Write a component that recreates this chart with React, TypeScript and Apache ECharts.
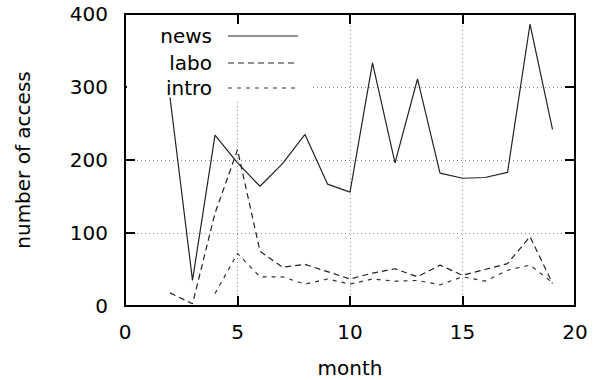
import React, { useEffect, useRef } from "react";
import * as echarts from "echarts";

const seriesNames = ["news", "labo", "intro"];
const newsMonths = [2, 3, 4, 5, 6, 7, 8, 9, 10, 11, 12, 13, 14, 15, 16, 17, 18, 19];
const newsValues = [286, 35, 234, 196, 164, 195, 235, 167, 156, 333, 196, 311, 182, 175, 176, 183, 386, 242];
const laboMonths = [2, 3, 4, 5, 6, 7, 8, 9, 10, 11, 12, 13, 14, 15, 16, 17, 18, 19];
const laboValues = [18, 3, 127, 214, 75, 53, 57, 47, 37, 45, 51, 40, 56, 42, 50, 58, 95, 31];
const introMonths = [4, 5, 6, 7, 8, 9, 10, 11, 12, 13, 14, 15, 16, 17, 18, 19];
const introValues = [17, 72, 40, 40, 30, 37, 30, 37, 34, 35, 29, 40, 34, 49, 56, 32];
const xTicks = [0, 5, 10, 15, 20];
const yTicks = [0, 100, 200, 300, 400];

const FONT = "'DejaVu Sans', sans-serif";
const FS = 20;

export default function App() {
  const ref = useRef<HTMLDivElement>(null);
  useEffect(() => {
    if (!ref.current) return;
    const chart = echarts.init(ref.current, undefined, { renderer: "svg" });
    const pair = (m: number[], v: number[]) => m.map((x, i) => [x, v[i]]);
    const dashes: any[] = ["solid", [6, 4], [4, 5]];
    const colors = ["#222", "#222", "#333"];
    const datas = [pair(newsMonths, newsValues), pair(laboMonths, laboValues), pair(introMonths, introValues)];

    const axisCommon = {
      type: "value" as const,
      axisLine: { show: true, onZero: false, lineStyle: { color: "#000", width: 2 } },
      axisTick: { show: true, inside: true, length: 10, lineStyle: { color: "#000", width: 2 } },
      axisLabel: { color: "#000", fontSize: FS, fontFamily: FONT },
    };
    const legendY = [36, 63, 88];
    const legendEls: any[] = [];
    seriesNames.forEach((n, i) => {
      legendEls.push({
        type: "text",
        x: 212,
        y: legendY[i],
        z: 5,
        style: { text: n, fill: "#000", font: `${FS}px ${FONT}`, align: "right", verticalAlign: "middle" },
      });
      legendEls.push({
        type: "line",
        z: 5,
        shape: { x1: 228, y1: legendY[i], x2: 298, y2: legendY[i] },
        style: { stroke: colors[i], lineWidth: 1.2, lineDash: dashes[i] === "solid" ? null : dashes[i] },
      });
    });

    chart.setOption({
      animation: false,
      backgroundColor: "#fff",
      grid: { left: 125, right: 25, top: 14, bottom: 74, containLabel: false, outerBoundsMode: "none" },
      xAxis: [
        {
          ...axisCommon,
          min: xTicks[0],
          max: xTicks[xTicks.length - 1],
          interval: 5,
          position: "bottom",
          name: "month",
          nameLocation: "middle",
          nameGap: 52,
          nameTextStyle: { color: "#000", fontSize: FS, fontFamily: FONT },
          axisLabel: { ...axisCommon.axisLabel, margin: 16 },
          splitLine: { show: true, lineStyle: { color: "#888", type: [1, 3], width: 1 } },
        },
        {
          ...axisCommon,
          min: xTicks[0],
          max: xTicks[xTicks.length - 1],
          interval: 5,
          position: "top",
          axisLabel: { show: false },
          splitLine: { show: false },
        },
      ],
      yAxis: [
        {
          ...axisCommon,
          min: yTicks[0],
          max: yTicks[yTicks.length - 1],
          interval: 100,
          position: "left",
          name: "number of access",
          nameLocation: "middle",
          nameGap: 92,
          nameRotate: 90,
          nameTextStyle: { color: "#000", fontSize: FS, fontFamily: FONT },
          axisLabel: { ...axisCommon.axisLabel, margin: 17 },
          splitLine: { show: true, lineStyle: { color: "#888", type: [1, 3], width: 1 } },
        },
        {
          ...axisCommon,
          min: yTicks[0],
          max: yTicks[yTicks.length - 1],
          interval: 100,
          position: "right",
          axisLabel: { show: false },
          splitLine: { show: false },
        },
      ],
      graphic: [
        {
          type: "rect",
          z: 1,
          shape: { x: 127, y: 25, width: 185, height: 77 },
          style: { fill: "#fff" },
        },
        ...legendEls,
      ],
      series: seriesNames.map((n, i) => ({
        name: n,
        type: "line",
        xAxisIndex: 0,
        yAxisIndex: 0,
        data: datas[i],
        showSymbol: false,
        symbol: "none",
        z: 3,
        lineStyle: { color: colors[i], width: 1.2, type: dashes[i] },
      })),
    });
    return () => chart.dispose();
  }, []);
  return <div ref={ref} style={{ width: 600, height: 380, position: "absolute", left: 0, top: 0 }} />;
}
